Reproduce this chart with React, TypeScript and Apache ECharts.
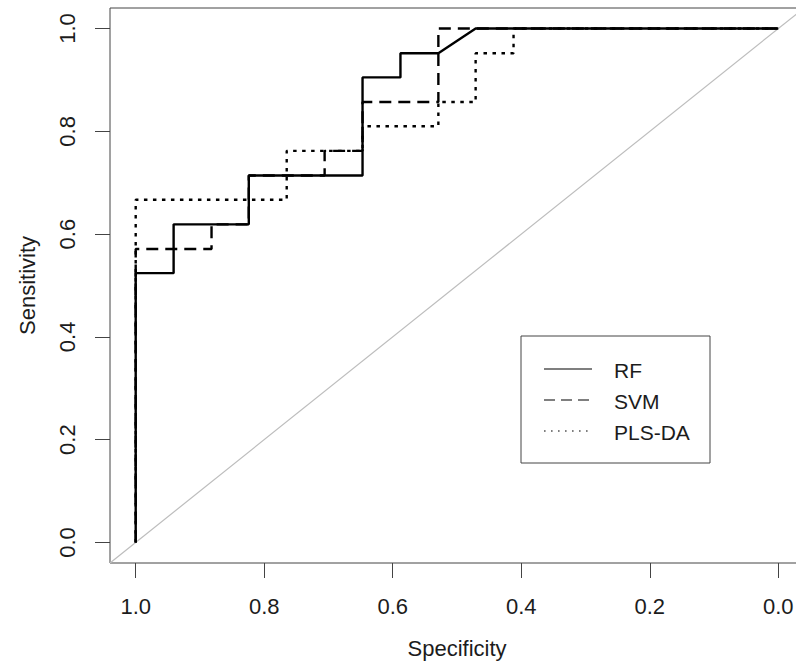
import React, { useEffect, useRef } from "react";
import * as echarts from "echarts";

// ROC curve points (specificity, sensitivity), drawn in pROC order
const rfSpec = [1, 1, 0.941, 0.941, 0.824, 0.824, 0.647, 0.647, 0.588, 0.588, 0.529, 0.471, 0];
const rfSens = [0, 0.524, 0.524, 0.619, 0.619, 0.714, 0.714, 0.905, 0.905, 0.952, 0.952, 1, 1];

const svmSpec = [1, 1, 0.882, 0.882, 0.824, 0.824, 0.706, 0.706, 0.647, 0.647, 0.529, 0.529, 0];
const svmSens = [0, 0.571, 0.571, 0.619, 0.619, 0.714, 0.714, 0.762, 0.762, 0.857, 0.857, 1, 1];

const plsSpec = [1, 1, 0.765, 0.765, 0.647, 0.647, 0.529, 0.529, 0.471, 0.471, 0.412, 0.412, 0];
const plsSens = [0, 0.667, 0.667, 0.762, 0.762, 0.81, 0.81, 0.857, 0.857, 0.952, 0.952, 1, 1];

const tickValues = [0, 0.2, 0.4, 0.6, 0.8, 1.0];
const legendNames = ["RF", "SVM", "PLS-DA"];

const FONT = "'Liberation Sans', Arial, Helvetica, sans-serif";
const TXT = "#1c1c1c";

function zip(a: number[], b: number[]) {
  return a.map((v, i) => [v, b[i]]);
}

export default function App() {
  const ref = useRef<HTMLDivElement>(null);
  useEffect(() => {
    if (!ref.current) return;
    const chart = echarts.init(ref.current, undefined, { renderer: "svg" });
    const axisCommon = {
      type: "value" as const,
      min: -0.04,
      max: 1.04,
      axisLine: { show: false, onZero: false },
      splitLine: { show: false },
      axisTick: {
        show: true,
        length: 15,
        customValues: tickValues,
        lineStyle: { color: "#444", width: 1 },
      },
      nameLocation: "middle" as const,
      nameTextStyle: { fontFamily: FONT, fontSize: 22, color: TXT },
    };
    const legendRows = [
      { y: 369, dash: undefined as number[] | undefined },
      { y: 400, dash: [11, 6] },
      { y: 431, dash: [1.6, 5.4] },
    ];
    const legendChildren: any[] = [
      {
        type: "rect",
        shape: { x: 521, y: 336, width: 189, height: 127 },
        style: { fill: "#fff", stroke: "#444", lineWidth: 1 },
      },
    ];
    legendRows.forEach((r, i) => {
      legendChildren.push({
        type: "line",
        shape: { x1: 544, y1: r.y, x2: 592, y2: r.y },
        style: { stroke: "#555", lineWidth: 1.5, lineDash: r.dash },
      });
      legendChildren.push({
        type: "text",
        x: 614,
        y: r.y + 1,
        style: {
          text: legendNames[i],
          fontFamily: FONT,
          fontSize: 21,
          fill: TXT,
          verticalAlign: "middle",
        },
      });
    });

    chart.setOption({
      animation: false,
      backgroundColor: "#fff",
      grid: {
        left: 110,
        top: 8,
        width: 694,
        height: 555,
        show: true,
        borderColor: "#444",
        borderWidth: 1,
        containLabel: false,
        outerBoundsMode: "none",
      },
      xAxis: {
        ...axisCommon,
        inverse: true,
        name: "Specificity",
        nameGap: 74,
        axisLabel: {
          customValues: tickValues,
          margin: 32,
          fontFamily: FONT,
          fontSize: 22,
          color: TXT,
          formatter: (v: number) => v.toFixed(1),
        },
      },
      yAxis: {
        ...axisCommon,
        name: "Sensitivity",
        nameGap: 72,
        nameRotate: 90,
        axisLabel: {
          customValues: tickValues,
          margin: 32,
          rotate: 90,
          fontFamily: FONT,
          fontSize: 22,
          color: TXT,
          formatter: (v: number) => v.toFixed(1),
        },
      },
      series: [
        {
          type: "line",
          data: [
            [1.04, -0.04],
            [-0.04, 1.04],
          ],
          symbol: "none",
          lineStyle: { color: "#bdbdbd", width: 1.2 },
          silent: true,
          clip: true,
        },
        {
          name: "RF",
          type: "line",
          data: zip(rfSpec, rfSens),
          symbol: "none",
          lineStyle: { color: "#000", width: 2.4, type: "solid" },
          clip: true,
        },
        {
          name: "SVM",
          type: "line",
          data: zip(svmSpec, svmSens),
          symbol: "none",
          lineStyle: { color: "#000", width: 2.4, type: [12, 7] },
          clip: true,
        },
        {
          name: "PLS-DA",
          type: "line",
          data: zip(plsSpec, plsSens),
          symbol: "none",
          lineStyle: { color: "#000", width: 2.4, type: [3.5, 5.5] },
          clip: true,
        },
      ],
      graphic: [{ type: "group", children: legendChildren }],
    });
    return () => chart.dispose();
  }, []);
  return (
    <div
      ref={ref}
      style={{ position: "fixed", left: 0, top: 0, width: 796, height: 669, background: "#fff" }}
    />
  );
}
